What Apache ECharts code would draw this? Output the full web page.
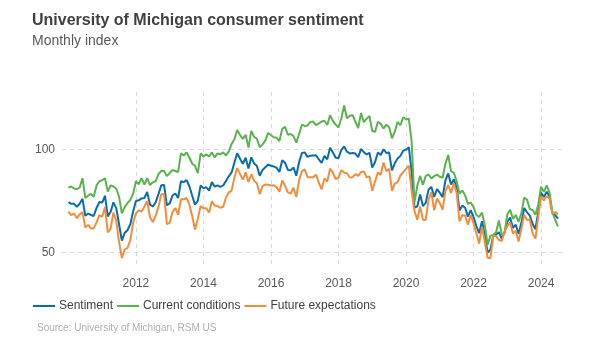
<!DOCTYPE html>
<html>
<head>
<meta charset="utf-8">
<script src="https://cdn.jsdelivr.net/npm/echarts@6/dist/echarts.min.js"></script>
<style>
  html, body { margin: 0; padding: 0; background: #fff; }
  #main { width: 600px; height: 350px; }
</style>
</head>
<body>
<div id="main"></div>
<script>
// monthly, Jan 2010 .. Jul 2024
var startYear = 2010
var sentiment = [
  74.4, 73.6, 73.6, 72.2, 73.6, 76.0, 67.8, 68.9, 68.2, 67.7, 71.6, 74.5,
  74.2, 77.5, 67.5, 69.8, 74.3, 71.5, 63.7, 55.8, 59.5, 60.8, 63.7, 69.9,
  75.0, 75.3, 76.2, 76.4, 79.3, 73.2, 72.3, 74.3, 78.3, 82.6, 82.7, 72.9,
  73.8, 77.6, 78.6, 76.4, 84.5, 84.1, 85.1, 82.1, 77.5, 73.2, 75.1, 82.5,
  81.2, 81.6, 80.0, 84.1, 81.9, 82.5, 81.8, 82.5, 84.6, 86.9, 88.8, 93.6,
  98.1, 95.4, 93.0, 95.9, 90.7, 96.1, 93.1, 91.9, 87.2, 90.0, 91.3, 92.6,
  92.0, 91.7, 91.0, 89.0, 94.7, 93.5, 90.0, 89.8, 91.2, 87.2, 93.8, 98.2,
  98.5, 96.3, 96.9, 97.0, 97.1, 95.1, 93.4, 96.8, 95.1, 100.7, 98.5, 95.9,
  95.7, 99.7, 101.4, 98.8, 98.0, 98.2, 97.9, 96.2, 100.1, 98.6, 97.5, 98.3,
  91.2, 93.8, 98.4, 97.2, 100.0, 98.2, 98.4, 89.8, 93.2, 95.5, 96.8, 99.3,
  99.8, 101.0, 89.1, 71.8, 72.3, 78.1, 72.5, 74.1, 80.4, 81.8, 76.9, 80.7,
  79.0, 76.8, 84.9, 88.3, 82.9, 85.5, 81.2, 70.3, 72.8, 71.7, 67.4, 70.6,
  67.2, 62.8, 59.4, 65.2, 58.4, 50.0, 51.5, 58.2, 58.6, 59.9, 56.8, 59.7,
  64.9, 67.0, 62.0, 63.5, 59.0, 64.4, 71.6, 69.5, 67.9, 63.8, 61.3, 69.7,
  79.0, 76.9, 79.4, 77.2, 69.1, 68.2, 66.4
]
var current = [
  81.5, 82.0, 81.0, 80.7, 81.5, 86.0, 76.5, 77.5, 78.4, 77.0, 82.5, 84.5,
  85.0, 86.0, 79.5, 82.5, 82.0, 81.0, 77.0, 69.0, 72.0, 74.0, 75.5, 78.5,
  84.5, 83.0, 86.0, 82.9, 86.0, 82.7, 84.0, 84.5, 88.0, 89.5, 89.5, 87.0,
  88.5, 90.0, 89.5, 89.0, 98.0, 97.0, 98.5, 96.0, 93.0, 92.0, 88.5, 98.0,
  96.5, 97.5, 96.5, 98.5, 96.0, 98.0, 97.5, 98.5, 97.0, 99.0, 102.5, 104.8,
  109.3, 106.9, 105.0, 107.0, 100.8, 108.9, 106.0, 105.1, 101.0, 102.3, 104.3, 107.9,
  106.8, 105.8, 105.6, 104.0, 109.9, 110.8, 107.0, 107.4, 106.4, 103.2, 107.3, 111.9,
  111.3, 111.5, 113.2, 113.4, 111.7, 112.5, 113.4, 113.8, 111.7, 116.5, 113.7, 111.9,
  110.5, 114.9, 121.2, 115.0, 116.2, 116.5, 113.3, 110.3, 117.5, 113.1, 114.8, 116.1,
  108.8, 108.5, 113.3, 112.3, 110.0, 111.9, 110.7, 105.3, 108.5, 113.2, 111.6, 115.5,
  114.4, 114.8, 103.7, 74.3, 82.3, 87.1, 82.8, 87.0, 87.8, 85.9, 87.0, 87.7,
  86.7, 86.2, 93.0, 97.2, 89.4, 88.6, 84.5, 78.5, 80.1, 77.7, 73.6, 74.2,
  72.0, 68.2, 67.2, 69.4, 63.3, 53.8, 58.1, 58.6, 59.7, 65.6, 58.8, 59.4,
  68.4, 70.7, 66.3, 68.2, 64.9, 69.0, 76.6, 75.7, 71.1, 70.6, 68.3, 73.3,
  81.9, 79.4, 82.5, 79.0, 69.6, 65.9, 62.7
]
var expectations = [
  69.8, 68.2, 68.8, 66.7, 68.5, 69.6, 62.2, 63.4, 61.7, 61.7, 64.6, 68.1,
  67.3, 72.0, 59.8, 61.6, 69.4, 65.4, 55.2, 47.3, 51.5, 52.3, 56.1, 64.4,
  68.9, 70.4, 69.9, 72.2, 75.0, 67.1, 64.8, 67.8, 72.1, 78.2, 78.3, 63.8,
  64.4, 69.6, 71.6, 68.3, 75.8, 75.8, 76.5, 73.2, 67.6, 61.1, 66.5, 72.5,
  71.4, 71.4, 69.4, 74.9, 72.8, 72.5, 71.7, 72.2, 76.6, 79.1, 80.0, 86.4,
  90.9, 88.0, 85.3, 88.8, 84.2, 87.9, 84.8, 83.4, 78.3, 82.1, 83.0, 82.8,
  82.5, 82.6, 81.6, 79.4, 84.9, 82.4, 79.1, 78.5, 81.4, 76.9, 85.1, 89.4,
  90.3, 86.5, 86.4, 86.5, 87.7, 83.9, 80.6, 85.9, 84.4, 90.6, 88.7, 85.6,
  86.2, 89.9, 88.7, 88.4, 86.3, 86.5, 88.0, 87.1, 88.9, 89.3, 86.4, 86.9,
  79.9, 84.4, 88.8, 87.5, 93.6, 89.4, 90.5, 79.9, 83.4, 84.1, 87.3, 88.9,
  90.5, 92.1, 79.7, 70.1, 65.9, 72.3, 65.9, 65.8, 75.6, 79.2, 70.5, 76.1,
  74.0, 70.7, 79.7, 82.7, 78.8, 83.5, 79.0, 65.1, 68.1, 67.9, 63.5, 68.3,
  64.1, 59.4, 54.3, 62.5, 55.2, 47.5, 47.3, 58.0, 58.0, 56.2, 55.6, 59.9,
  62.7, 64.7, 59.2, 60.5, 55.4, 61.5, 68.3, 65.8, 66.0, 59.3, 56.8, 67.4,
  77.1, 75.2, 77.4, 76.0, 68.8, 69.6, 68.5
]
var yearTicks = [2012, 2014, 2016, 2018, 2020, 2022, 2024]
var valueTicks = [50, 100]

function pairs (arr) {
  var out = []
  for (var i = 0; i < arr.length; i++) {
    out.push([startYear + i / 12, arr[i]])
  }
  return out
}

var font = '"Liberation Sans", Arial, sans-serif'
var gridLine = { show: true, lineStyle: { color: '#d9d9d9', type: [4, 4], width: 1 } }

var myChart = echarts.init(document.getElementById('main'), null, { renderer: 'canvas' })
var option = {
  animation: false,
  textStyle: { fontFamily: font },
  title: [
    {
      text: 'University of Michigan consumer sentiment',
      left: 32, top: 13, padding: 0,
      textStyle: { fontSize: 16, fontWeight: 'bold', color: '#404040', fontFamily: font }
    },
    {
      text: 'Monthly index',
      left: 32, top: 34, padding: 0,
      textStyle: { fontSize: 14, fontWeight: 'normal', color: '#595959', fontFamily: font }
    },
    {
      text: 'Source: University of Michigan, RSM US',
      left: 37, top: 323, padding: 0,
      textStyle: { fontSize: 10, fontWeight: 'normal', color: '#b0b0b0', fontFamily: font }
    }
  ],
  legend: {
    left: 33, top: 300, padding: 0,
    icon: 'rect',
    itemWidth: 22, itemHeight: 2,
    itemGap: 4,
    textStyle: { fontSize: 12, color: '#404040', fontFamily: font, padding: [0, 0, 0, -1] },
    data: ['Sentiment', 'Current conditions', 'Future expectations']
  },
  grid: { left: 62, right: 38, top: 92, bottom: 85, containLabel: false },
  xAxis: {
    type: 'value',
    min: 2009.81,
    max: 2024.62,
    axisLine: { show: false },
    axisTick: { show: false, customValues: yearTicks },
    axisLabel: {
      customValues: yearTicks, color: '#595959', fontSize: 12, margin: 13, fontFamily: font,
      formatter: function (value) { return String(value) }
    },
    splitLine: gridLine
  },
  yAxis: {
    type: 'value',
    min: 44,
    max: 127.7,
    axisLine: { show: false },
    axisTick: { show: false, customValues: valueTicks },
    axisLabel: { customValues: valueTicks, color: '#595959', fontSize: 12, margin: 7, fontFamily: font },
    splitLine: gridLine
  },
  series: [
    {
      name: 'Sentiment', type: 'line', data: pairs(sentiment),
      showSymbol: false, color: '#0b6cab', lineStyle: { width: 2 }
    },
    {
      name: 'Current conditions', type: 'line', data: pairs(current),
      showSymbol: false, color: '#5ab34e', lineStyle: { width: 2 }
    },
    {
      name: 'Future expectations', type: 'line', data: pairs(expectations),
      showSymbol: false, color: '#f28d3c', lineStyle: { width: 2 }
    }
  ]
}
myChart.setOption(option)
</script>
</body>
</html>
